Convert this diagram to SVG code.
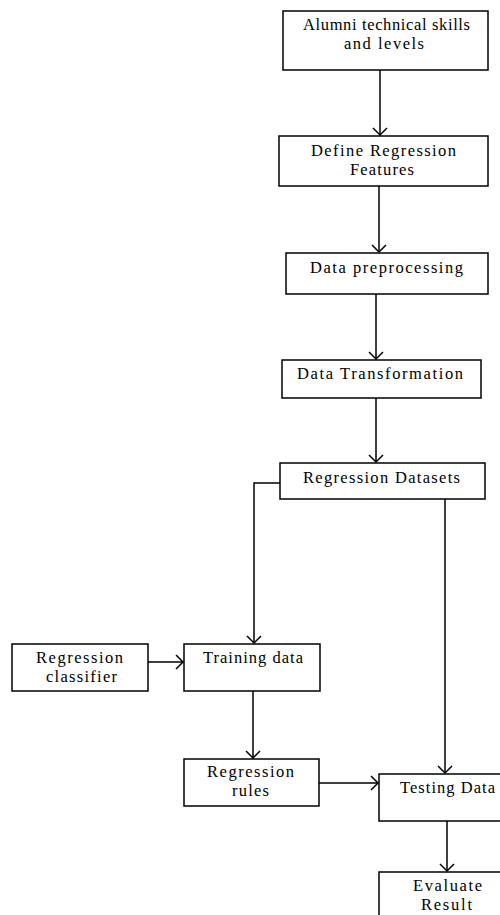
<svg xmlns="http://www.w3.org/2000/svg" width="500" height="915" viewBox="0 0 500 915">
<style>
.box{fill:#fff;stroke:#000;stroke-width:1.5}
.t{font-family:"Liberation Serif","Times New Roman",serif;font-size:16.5px;fill:#000;text-anchor:middle}
.c{fill:none;stroke:#000;stroke-width:1.5}
</style>
<defs>
<marker id="ah" markerWidth="16" markerHeight="16" refX="8" refY="8" orient="auto" markerUnits="userSpaceOnUse">
<path d="M1,1 L8,8 L1,15" fill="none" stroke="#000" stroke-width="1.5"/>
</marker>
</defs>
<rect width="500" height="915" fill="#fff"/>
<g id="n1"><rect class="box" x="283" y="11" width="205" height="59"/><text class="t" x="386.5" y="30" textLength="167" lengthAdjust="spacing">Alumni technical skills</text><text class="t" x="384" y="49" textLength="80" lengthAdjust="spacing">and levels</text></g>
<g id="n2"><rect class="box" x="279" y="136" width="209" height="50"/><text class="t" x="383.5" y="156" textLength="145" lengthAdjust="spacing">Define Regression</text><text class="t" x="382" y="175" textLength="64" lengthAdjust="spacing">Features</text></g>
<g id="n3"><rect class="box" x="286" y="253" width="202" height="41"/><text class="t" x="386.5" y="273" textLength="153" lengthAdjust="spacing">Data preprocessing</text></g>
<g id="n4"><rect class="box" x="282" y="360" width="199" height="38"/><text class="t" x="380" y="379" textLength="166" lengthAdjust="spacing">Data Transformation</text></g>
<g id="n5"><rect class="box" x="280" y="463" width="205" height="36"/><text class="t" x="381.5" y="483" textLength="157" lengthAdjust="spacing">Regression Datasets</text></g>
<g id="n6"><rect class="box" x="12" y="644" width="136" height="47"/><text class="t" x="79.5" y="663" textLength="87" lengthAdjust="spacing">Regression</text><text class="t" x="81.5" y="682" textLength="71" lengthAdjust="spacing">classifier</text></g>
<g id="n7"><rect class="box" x="184" y="644" width="136" height="47"/><text class="t" x="253" y="663" textLength="100" lengthAdjust="spacing">Training data</text></g>
<g id="n8"><rect class="box" x="184" y="759" width="135" height="47"/><text class="t" x="250.5" y="777" textLength="87" lengthAdjust="spacing">Regression</text><text class="t" x="250.5" y="796" textLength="37" lengthAdjust="spacing">rules</text></g>
<g id="n9"><rect class="box" x="379" y="774" width="130" height="47"/><text class="t" x="447.5" y="793" textLength="95" lengthAdjust="spacing">Testing Data</text></g>
<g id="n10"><rect class="box" x="379" y="872" width="130" height="60"/><text class="t" x="447.5" y="891" textLength="69" lengthAdjust="spacing">Evaluate</text><text class="t" x="446.5" y="910" textLength="51" lengthAdjust="spacing">Result</text></g>
<g id="connectors">
<path class="c" d="M380,70 V135" marker-end="url(#ah)"/>
<path class="c" d="M379,186 V252" marker-end="url(#ah)"/>
<path class="c" d="M376,294 V359" marker-end="url(#ah)"/>
<path class="c" d="M376,398 V462" marker-end="url(#ah)"/>
<path class="c" d="M280,483 H254 V643" marker-end="url(#ah)"/>
<path class="c" d="M445,499 V773" marker-end="url(#ah)"/>
<path class="c" d="M148,662 H183" marker-end="url(#ah)"/>
<path class="c" d="M253,691 V758" marker-end="url(#ah)"/>
<path class="c" d="M319,783 H378" marker-end="url(#ah)"/>
<path class="c" d="M447,821 V871" marker-end="url(#ah)"/>
</g>
</svg>
